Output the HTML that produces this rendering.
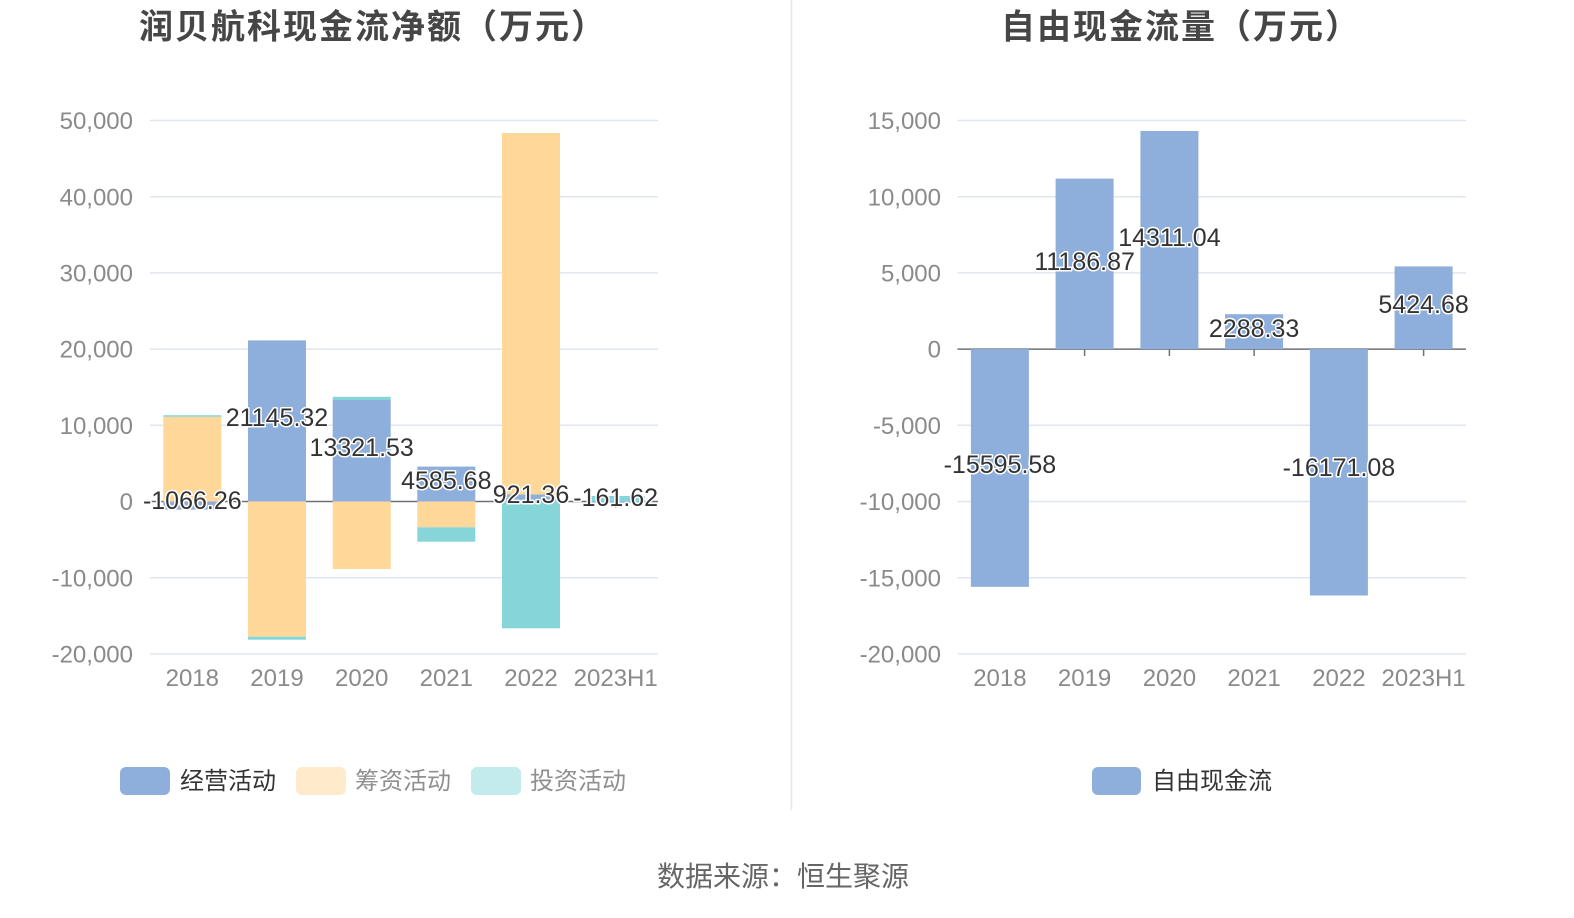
<!DOCTYPE html>
<html>
<head>
<meta charset="utf-8">
<style>
  html,body{margin:0;padding:0;background:#fff;}
  svg{display:block;}
  text{font-family:"Liberation Sans","Noto Sans CJK SC",sans-serif;}
  .ax{font-size:24px;fill:#8a8a8a;}
  .val{font-size:25px;fill:#333;stroke:#fff;stroke-width:3px;paint-order:stroke;stroke-linejoin:round;}
  .title{font-size:34px;font-weight:bold;fill:#464646;letter-spacing:2px;}
  .lg{font-size:24px;}
</style>
</head>
<body>
<svg width="1574" height="918" viewBox="0 0 1574 918" xmlns="http://www.w3.org/2000/svg">
  <rect width="1574" height="918" fill="#fff"/>
  <!-- divider -->
  <line x1="791.5" y1="0" x2="791.5" y2="810" stroke="#e8e8e8" stroke-width="1.5"/>

  <!-- Titles -->
  <text class="title" x="373" y="38.5" text-anchor="middle">润贝航科现金流净额（万元）</text>
  <text class="title" x="1181" y="38.5" text-anchor="middle">自由现金流量（万元）</text>

  <!-- LEFT CHART gridlines -->
  <g stroke="#e0e6f1" stroke-width="1.5">
    <line x1="150" y1="120.5" x2="658" y2="120.5"/>
    <line x1="150" y1="196.7" x2="658" y2="196.7"/>
    <line x1="150" y1="272.9" x2="658" y2="272.9"/>
    <line x1="150" y1="349.1" x2="658" y2="349.1"/>
    <line x1="150" y1="425.3" x2="658" y2="425.3"/>
    <line x1="150" y1="577.7" x2="658" y2="577.7"/>
    <line x1="150" y1="653.9" x2="658" y2="653.9"/>
  </g>
  <g class="ax" text-anchor="end">
    <text x="133" y="129">50,000</text>
    <text x="133" y="205.3">40,000</text>
    <text x="133" y="281.5">30,000</text>
    <text x="133" y="357.7">20,000</text>
    <text x="133" y="433.9">10,000</text>
    <text x="133" y="510.1">0</text>
    <text x="133" y="586.3">-10,000</text>
    <text x="133" y="662.5">-20,000</text>
  </g>
  <!-- zero axis line -->
  <line x1="150" y1="501.5" x2="658" y2="501.5" stroke="#6e7079" stroke-width="1.5"/>
  <g stroke="#6e7079" stroke-width="1.5">
    <line x1="615.7" y1="501.5" x2="615.7" y2="508"/>
  </g>

  <!-- LEFT bars -->
  <rect x="163.3" y="501.5" width="58" height="8.1" fill="#8eaedb"/>
  <rect x="163.3" y="416.8" width="58" height="84.7" fill="#ffd899"/>
  <rect x="163.3" y="415.2" width="58" height="1.6" fill="#86d5d8"/>
  <rect x="248" y="340.4" width="58" height="161.1" fill="#8eaedb"/>
  <rect x="248" y="501.5" width="58" height="135.2" fill="#ffd899"/>
  <rect x="248" y="636.7" width="58" height="3" fill="#86d5d8"/>
  <rect x="332.7" y="400" width="58" height="101.5" fill="#8eaedb"/>
  <rect x="332.7" y="396.8" width="58" height="3.2" fill="#86d5d8"/>
  <rect x="332.7" y="501.5" width="58" height="67.5" fill="#ffd899"/>
  <rect x="417.3" y="466.6" width="58" height="34.9" fill="#8eaedb"/>
  <rect x="417.3" y="501.5" width="58" height="25.8" fill="#ffd899"/>
  <rect x="417.3" y="527.3" width="58" height="14.4" fill="#86d5d8"/>
  <rect x="502" y="494.5" width="58" height="7" fill="#8eaedb"/>
  <rect x="502" y="133" width="58" height="361.5" fill="#ffd899"/>
  <rect x="502" y="501.5" width="58" height="126.8" fill="#86d5d8"/>
  <rect x="586.7" y="501.5" width="58" height="1.3" fill="#8eaedb"/>
  <rect x="586.7" y="496" width="58" height="5.5" fill="#86d5d8"/>

  <!-- LEFT value labels -->
  <g class="val" text-anchor="middle">
    <text x="192.3" y="509">-1066.26</text>
    <text x="277" y="426">21145.32</text>
    <text x="361.7" y="456">13321.53</text>
    <text x="446.3" y="489">4585.68</text>
    <text x="531" y="503">921.36</text>
    <text x="615.7" y="506">-161.62</text>
  </g>

  <!-- LEFT category labels -->
  <g class="ax" text-anchor="middle">
    <text x="192.3" y="686">2018</text>
    <text x="277" y="686">2019</text>
    <text x="361.7" y="686">2020</text>
    <text x="446.3" y="686">2021</text>
    <text x="531" y="686">2022</text>
    <text x="615.7" y="686">2023H1</text>
  </g>

  <!-- LEFT legend -->
  <rect x="120" y="767" width="50" height="28" rx="6" fill="#8eaedb"/>
  <text class="lg" x="180" y="789" fill="#333">经营活动</text>
  <rect x="296" y="767" width="50" height="28" rx="6" fill="#ffebcb"/>
  <text class="lg" x="355" y="789" fill="#8f8f8f">筹资活动</text>
  <rect x="471" y="767" width="50" height="28" rx="6" fill="#c3eaec"/>
  <text class="lg" x="530" y="789" fill="#8f8f8f">投资活动</text>

  <!-- RIGHT CHART gridlines -->
  <g stroke="#e0e6f1" stroke-width="1.5">
    <line x1="957.5" y1="120.5" x2="1466" y2="120.5"/>
    <line x1="957.5" y1="196.7" x2="1466" y2="196.7"/>
    <line x1="957.5" y1="272.9" x2="1466" y2="272.9"/>
    <line x1="957.5" y1="425.3" x2="1466" y2="425.3"/>
    <line x1="957.5" y1="501.5" x2="1466" y2="501.5"/>
    <line x1="957.5" y1="577.7" x2="1466" y2="577.7"/>
    <line x1="957.5" y1="653.9" x2="1466" y2="653.9"/>
  </g>
  <g class="ax" text-anchor="end">
    <text x="941" y="129">15,000</text>
    <text x="941" y="205.3">10,000</text>
    <text x="941" y="281.5">5,000</text>
    <text x="941" y="357.7">0</text>
    <text x="941" y="433.9">-5,000</text>
    <text x="941" y="510.1">-10,000</text>
    <text x="941" y="586.3">-15,000</text>
    <text x="941" y="662.5">-20,000</text>
  </g>
  <line x1="957.5" y1="349.1" x2="1466" y2="349.1" stroke="#6e7079" stroke-width="1.5"/>
  <g stroke="#6e7079" stroke-width="1.5">
    <line x1="1084.6" y1="349.1" x2="1084.6" y2="356"/>
    <line x1="1169.4" y1="349.1" x2="1169.4" y2="356"/>
    <line x1="1254.1" y1="349.1" x2="1254.1" y2="356"/>
    <line x1="1423.6" y1="349.1" x2="1423.6" y2="356"/>
  </g>

  <!-- RIGHT bars -->
  <rect x="970.9" y="349.1" width="58" height="237.7" fill="#8eaedb"/>
  <rect x="1055.6" y="178.6" width="58" height="170.5" fill="#8eaedb"/>
  <rect x="1140.4" y="131" width="58" height="218.1" fill="#8eaedb"/>
  <rect x="1225.1" y="314.2" width="58" height="34.9" fill="#8eaedb"/>
  <rect x="1309.9" y="349.1" width="58" height="246.4" fill="#8eaedb"/>
  <rect x="1394.6" y="266.4" width="58" height="82.7" fill="#8eaedb"/>

  <!-- RIGHT value labels -->
  <g class="val" text-anchor="middle">
    <text x="999.9" y="473">-15595.58</text>
    <text x="1084.6" y="270">11186.87</text>
    <text x="1169.4" y="246">14311.04</text>
    <text x="1254.1" y="337">2288.33</text>
    <text x="1338.9" y="476">-16171.08</text>
    <text x="1423.6" y="313">5424.68</text>
  </g>

  <g class="ax" text-anchor="middle">
    <text x="999.9" y="686">2018</text>
    <text x="1084.6" y="686">2019</text>
    <text x="1169.4" y="686">2020</text>
    <text x="1254.1" y="686">2021</text>
    <text x="1338.9" y="686">2022</text>
    <text x="1423.6" y="686">2023H1</text>
  </g>

  <!-- RIGHT legend -->
  <rect x="1092" y="767" width="49" height="28" rx="6" fill="#8eaedb"/>
  <text class="lg" x="1152" y="789" fill="#333">自由现金流</text>

  <!-- Source -->
  <text x="783" y="886" text-anchor="middle" font-size="28" fill="#666">数据来源：恒生聚源</text>
</svg>
</body>
</html>
